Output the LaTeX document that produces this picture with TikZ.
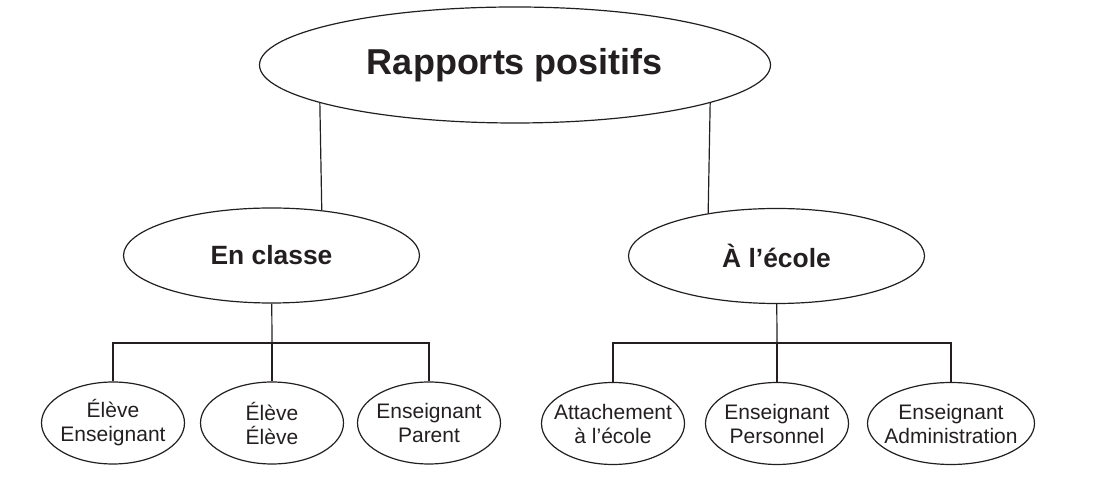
\documentclass[tikz,border=0pt]{standalone}
\usepackage{fontspec}
\setmainfont{Liberation Sans}
\usepackage{tikz}
\usetikzlibrary{shapes.geometric}
\definecolor{ink}{HTML}{231F20}
\tikzset{
  bubble/.style={draw=ink, ellipse, inner sep=0pt, text=ink, align=center},
  headbubble/.style={bubble, minimum width=148pt, minimum height=47.5pt,
    font=\fontsize{13.2}{15}\selectfont\bfseries},
  leaf/.style={bubble, inner xsep=-5pt, minimum height=41pt,
    font=\fontsize{10.5}{12}\selectfont},
}

\begin{document}
\begin{tikzpicture}[x=0.5pt, y=-0.5pt, line width=0.6pt, draw=ink]
  \useasboundingbox (0,0) rectangle (1101,490);

  \node[bubble, minimum width=255.5pt, minimum height=58pt,
    font=\fontsize{18}{21}\selectfont\bfseries] (top) at (515,65) {Rapports positifs};
  \node[headbubble] (classe) at (271.5,255.5) {En classe};
  \node[headbubble] (ecole) at (776.5,256) {À l’école};

  \draw (top.191) -- (classe.42);
  \draw (top.349) -- (ecole.148);

  % en classe
  \foreach \n/\x/\w/\txt in {ee/113/71.5/{Élève\\Enseignant}, ll/272/71.5/{Élève\\Élève},
      ep/429/71.5/{Enseignant\\Parent}} {
    \node[leaf, minimum width=\w pt] (\n) at (\x,423) {\txt};
  }
  \coordinate (cbus) at (272,343);
  \draw (classe) -- (cbus);
  \draw (ee) |- (cbus) -| (ep);
  \draw (cbus) -- (ll);

  % a l'ecole
  \foreach \n/\x/\w/\txt in {at/613/71.5/{Attachement\\à l’école}, pe/777/71.5/{Enseignant\\Personnel},
      ad/951/83.5/{Enseignant\\Administration}} {
    \node[leaf, minimum width=\w pt] (\n) at (\x,423.5) {\txt};
  }
  \coordinate (ebus) at (777,343);
  \draw (ecole) -- (ebus);
  \draw (at) |- (ebus) -| (ad);
  \draw (ebus) -- (pe);
\end{tikzpicture}
\end{document}
